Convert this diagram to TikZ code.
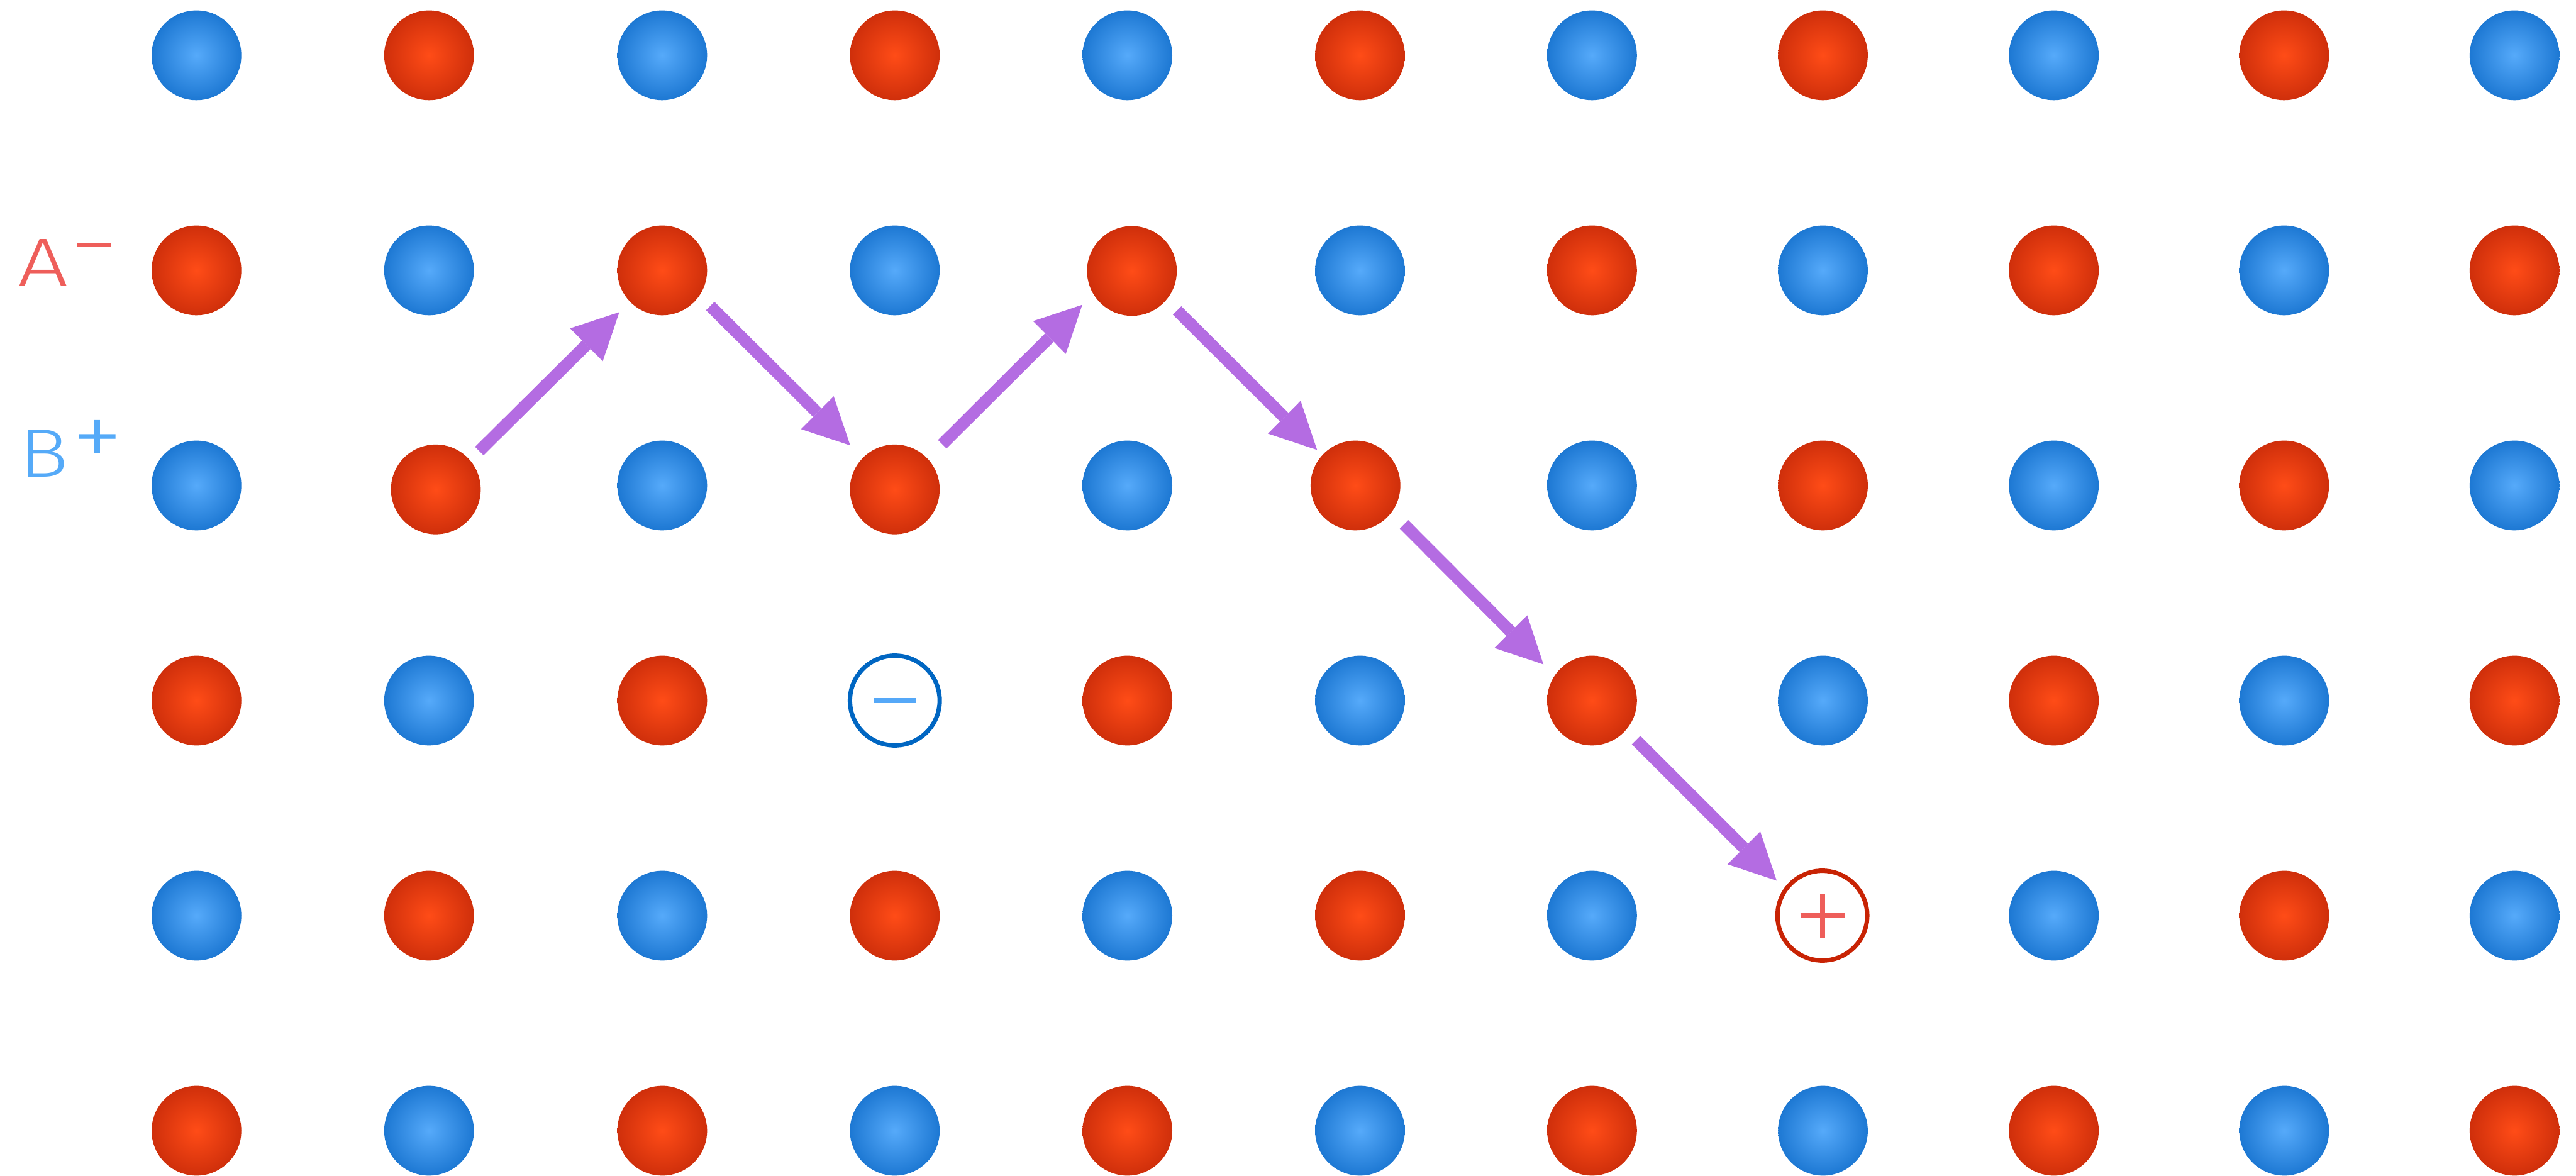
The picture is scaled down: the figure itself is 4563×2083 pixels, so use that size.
\documentclass[tikz,border=0pt]{standalone}
\usepackage{fontspec}
\IfFontExistsTF{Fira Sans Light}{\newfontfamily\labfont{Fira Sans Light}}{\newfontfamily\labfont{Fira Sans}}
\usetikzlibrary{arrows.meta}
\definecolor{redin}{HTML}{FF4C17}
\definecolor{redout}{HTML}{CF2F0B}
\definecolor{bluein}{HTML}{56AAFA}
\definecolor{blueout}{HTML}{1D78D3}
\definecolor{hopc}{HTML}{B46CE2}
\definecolor{minusring}{HTML}{0066C2}
\definecolor{minusbar}{HTML}{55A8F8}
\definecolor{plusring}{HTML}{C82304}
\definecolor{plusbar}{HTML}{EE5E5A}
\definecolor{labA}{HTML}{EE5E5A}
\definecolor{labB}{HTML}{55AAF8}
\begin{document}
\begin{tikzpicture}[x=0.1pt,y=-0.1pt,
  atom/.style={circle, inner sep=0pt, minimum size=15.9pt},
  redatom/.style={atom, inner color=redin, outer color=redout},
  blueatom/.style={atom, inner color=bluein, outer color=blueout},
  hole/.style={circle, inner sep=0pt, minimum size=15.9pt, line width=0.78pt},
  signbar/.style={line width=0.85pt},
  hop/.style={draw=hopc, line width=2.12pt, -{Triangle[length=8.2pt,width=8.2pt,line width=0pt]}},
  lbl/.style={inner sep=0pt, anchor=base west, font=\labfont\fontsize{12.2pt}{14pt}\selectfont}]
\useasboundingbox (0,0) rectangle (4563,2083);
\def\colx{{348,760,1173,1585,1997,2409,2820,3229,3638,4046,4454}}
\foreach \r in {0,...,5}{
  \foreach \c in {0,...,10}{
    \pgfmathtruncatemacro\code{100*\r+\c}
    \pgfmathtruncatemacro\odd{mod(\r+\c,2)}
    \pgfmathsetmacro\xx{\colx[\c]}
    \pgfmathsetmacro\yy{98+381*\r}
    \pgfmathsetmacro\dx{(\code==201)*12+(\code==104)*8+(\code==205)*(-8)}
    \pgfmathsetmacro\dy{(\code==201)*7+(\code==203)*7+(\code==104)*1}
    \ifnum\code=303 \else\ifnum\code=407 \else
      \ifnum\odd=1
        \node[redatom] (a\r-\c) at (\xx+\dx,\yy+\dy) {};
      \else
        \node[blueatom] (a\r-\c) at (\xx+\dx,\yy+\dy) {};
      \fi
    \fi\fi
  }
}
% vacancies
\node[hole, draw=minusring] (hm) at (1585,1241) {};
\draw[signbar, draw=minusbar, line width=0.9pt] ([xshift=-3.75pt]hm.center) -- ([xshift=3.75pt]hm.center);
\node[hole, draw=plusring] (hp) at (3228,1622) {};
\draw[signbar, draw=plusbar] ([xshift=-3.9pt]hp.center) -- ([xshift=3.9pt]hp.center);
\draw[signbar, draw=plusbar] ([yshift=-3.9pt]hp.center) -- ([yshift=3.9pt]hp.center);
% hops
\draw[hop] ([shift={(77,-68)}]a2-1.center) -- ([shift={(-76,74)}]a1-2.center);
\draw[hop] ([shift={(85,63)}]a1-2.center) -- ([shift={(-79,-78)}]a2-3.center);
\draw[hop] ([shift={(84,-80)}]a2-3.center) -- ([shift={(-88,60)}]a1-4.center);
\draw[hop] ([shift={(80,70)}]a1-4.center) -- ([shift={(-68,-63)}]a2-5.center);
\draw[hop] ([shift={(86,69)}]a2-5.center) -- ([shift={(-86,-64)}]a3-6.center);
\draw[hop] ([shift={(78,70)}]a3-6.center) -- ([shift={(-81,-62)}]hp.center);
% labels
\node[lbl, text=labA] (labelA) at (30,507) {\scalebox{1.3}[1]{A}\hspace{0.4pt}\raisebox{3.2pt}{\scalebox{1.4}[1]{−}}};
\node[lbl, text=labB] (labelB) at (32,845) {\scalebox{1.2}[1]{B}\hspace{0.6pt}\raisebox{1.7pt}{\scalebox{1.5}[1.35]{+}}};
\end{tikzpicture}
\end{document}
